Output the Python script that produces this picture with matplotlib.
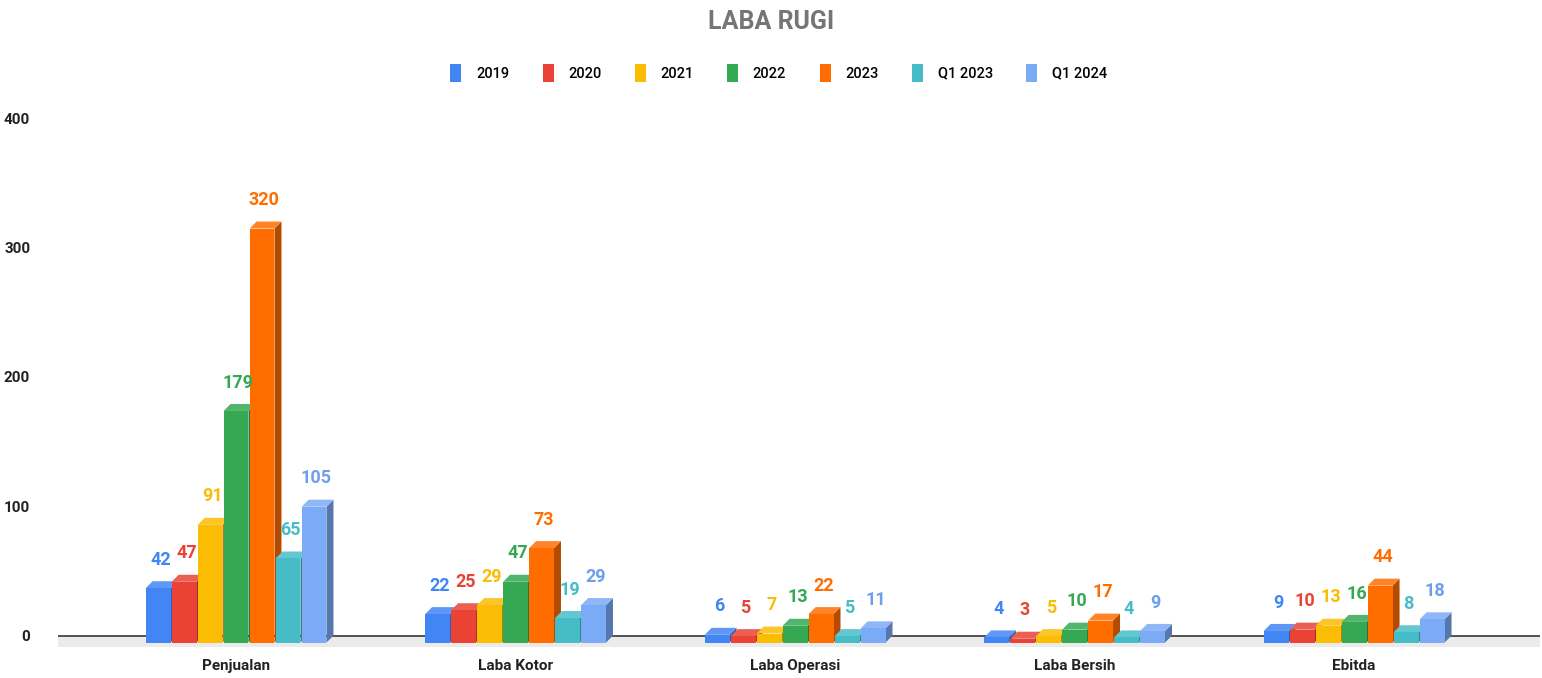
import matplotlib
matplotlib.use("Agg")
import matplotlib.pyplot as plt
from matplotlib.patches import Polygon, Patch
from matplotlib.colors import to_rgb
import numpy as np

plt.rcParams["font.family"] = ["Roboto", "DejaVu Sans"]

# ---------------- data ----------------
categories = ["Penjualan", "Laba Kotor", "Laba Operasi", "Laba Bersih", "Ebitda"]
series = ["2019", "2020", "2021", "2022", "2023", "Q1 2023", "Q1 2024"]
v2019 = [42, 22, 6, 4, 9]
v2020 = [47, 25, 5, 3, 10]
v2021 = [91, 29, 7, 5, 13]
v2022 = [179, 47, 13, 10, 16]
v2023 = [320, 73, 22, 17, 44]
vq1_2023 = [65, 19, 5, 4, 8]
vq1_2024 = [105, 29, 11, 9, 18]
values = [v2019, v2020, v2021, v2022, v2023, vq1_2023, vq1_2024]

colors = ["#4285F4", "#EA4335", "#FBBC04", "#34A853", "#FF6D01", "#46BDC6", "#7BAAF7"]
label_colors = ["#4285F4", "#EA4335", "#FBBC04", "#34A853", "#FF6D01", "#46BDC6", "#6F9EEB"]


def shade(c, f):
    r, g, b = to_rgb(c)
    if f < 1:
        return (r * f, g * f, b * f)
    return (r + (1 - r) * (f - 1), g + (1 - g) * (f - 1), b + (1 - b) * (f - 1))


# ---------------- figure ----------------
fig = plt.figure(figsize=(15.42, 6.78), dpi=100)
ax = fig.add_axes([58 / 1542, 23 / 678, 1482 / 1542, 537 / 678])

pitch = 0.093
width = 0.089
dx = 0.025   # depth offset (x, data units)
dy = 5.4     # depth offset (y, data units)

x = np.arange(len(categories))

# floor
ax.axhspan(-9, 0, color="#ebebeb", zorder=0, lw=0)
ax.axhline(0, color="#444444", lw=1.3, zorder=1)

for i, (name, vals) in enumerate(zip(series, values)):
    c = colors[i]
    xs = x + (i - 3) * pitch
    for xc, v in zip(xs, vals):
        x0, x1 = xc - width / 2, xc + width / 2
        z = 2 + i * 0.01
        side = Polygon([(x1, -dy), (x1 + dx, 0), (x1 + dx, v), (x1, v - dy)],
                       closed=True, facecolor=shade(c, 0.7), lw=0, zorder=z)
        top = Polygon([(x0, v - dy), (x0 + dx, v), (x1 + dx, v), (x1, v - dy)],
                      closed=True, facecolor=shade(c, 1.15), lw=0, zorder=z)
        ax.add_patch(side)
        ax.add_patch(top)
        ax.text(xc + dx / 3, v + 16.5, str(v), ha="center", va="center",
                fontsize=13, fontweight="bold", color=label_colors[i], zorder=5)
    ax.bar(xs, vals, width=width, bottom=-dy, color=c, lw=0, zorder=2 + i * 0.01 + 0.005)

ax.set_xlim(-0.637, 4.665)
ax.set_ylim(-15, 400)
ax.set_yticks([0, 100, 200, 300, 400])
ax.set_xticks(x)
ax.set_xticklabels(categories)
ax.tick_params(axis="both", length=0, labelsize=11, colors="#222222")
ax.tick_params(axis="y", pad=20)
ax.tick_params(axis="x", pad=3)
for lab in ax.get_xticklabels() + ax.get_yticklabels():
    lab.set_fontweight("bold")
for s in ax.spines.values():
    s.set_visible(False)

fig.text(0.5, 1 - 22 / 678, "LABA RUGI", ha="center", va="center",
         fontsize=18, fontweight="bold", color="#757575")

handles = [Patch(facecolor=c, edgecolor="none", label=s) for c, s in zip(colors, series)]
fig.legend(handles=handles, loc="center", bbox_to_anchor=(0.505, 1 - 73 / 678), ncol=7,
           frameon=False, handlelength=0.75, handleheight=1.6,
           handletextpad=1.0, columnspacing=2.3, prop={"weight": "medium", "size": 10.5})

fig.savefig("out.png", dpi=100)
